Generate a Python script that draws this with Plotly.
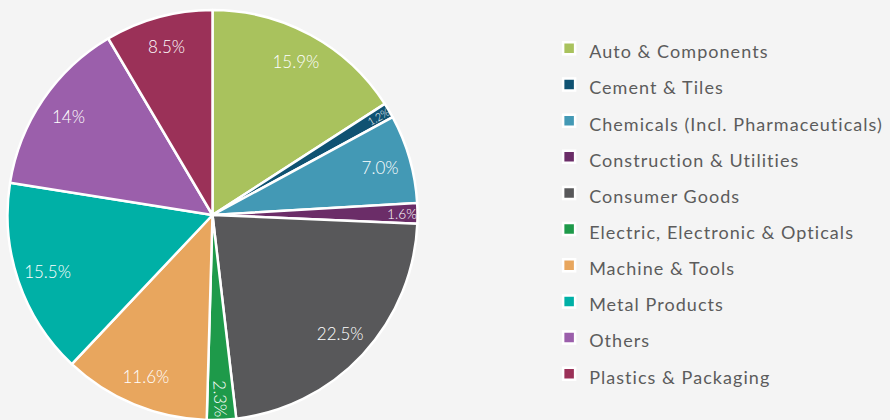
import plotly.graph_objects as go

# sector shares (%)
sectors = [
    "Auto & Components",
    "Cement & Tiles",
    "Chemicals (Incl. Pharmaceuticals)",
    "Construction & Utilities",
    "Consumer Goods",
    "Electric, Electronic & Opticals",
    "Machine & Tools",
    "Metal Products",
    "Others",
    "Plastics & Packaging",
]
shares = [15.9, 1.2, 7.0, 1.6, 22.5, 2.3, 11.6, 15.5, 14.0, 8.5]
share_labels = ["15.9%", "1.2%", "7.0%", "1.6%", "22.5%", "2.3%", "11.6%", "15.5%", "14%", "8.5%"]
colors = [
    "#a9c25d", "#0f5272", "#4399b5", "#6b2d68", "#58585a",
    "#1e9a4a", "#e8a65e", "#00b0a6", "#9b5fab", "#9b3158",
]

BG = "#f4f4f4"
FONT = "Lato"
pie_domain = {"x": [7 / 890, 418 / 890], "y": [0, 410 / 420]}

# legend font is kept large for row spacing, the visible text is set smaller
legend_names = [
    f"<span style='font-size:18px;letter-spacing:1.05px'>{s}</span>" for s in sectors
]

# coloured slices, no text
slices = go.Pie(
    labels=legend_names,
    values=shares,
    textinfo="none",
    marker={"colors": colors, "line": {"color": "white", "width": 2.5}},
    sort=False,
    direction="clockwise",
    rotation=0,
    domain=pie_domain,
    hoverinfo="skip",
)

# transparent ring on top, only used to push the % labels towards the rim
ring = go.Pie(
    labels=legend_names,
    values=shares,
    text=share_labels,
    texttemplate="%{text}",
    textposition="inside",
    insidetextorientation="auto",
    textfont={"color": "white", "size": 17, "family": FONT, "weight": 300},
    marker={"colors": ["rgba(0,0,0,0)"] * len(shares), "line": {"width": 0}},
    hole=0.7,
    sort=False,
    direction="clockwise",
    rotation=0,
    domain=pie_domain,
    showlegend=False,
    hovertemplate="%{label}: %{text}<extra></extra>",
)

fig = go.Figure([slices, ring])

fig.update_layout(
    width=890,
    height=420,
    paper_bgcolor=BG,
    plot_bgcolor=BG,
    margin={"l": 0, "r": 0, "t": 0, "b": 0},
    font={"family": FONT, "color": "#5c5c5c"},
    legend={
        "x": 0.617,
        "y": 0.497,
        "xanchor": "left",
        "yanchor": "middle",
        "font": {"size": 25.5, "family": FONT, "color": "#5c5c5c"},
        "bgcolor": "rgba(0,0,0,0)",
    },
)

fig.write_html(
    "out.html",
    config={"displayModeBar": False},
    post_script=f"document.body.style.margin='0';document.body.style.background='{BG}';",
)
